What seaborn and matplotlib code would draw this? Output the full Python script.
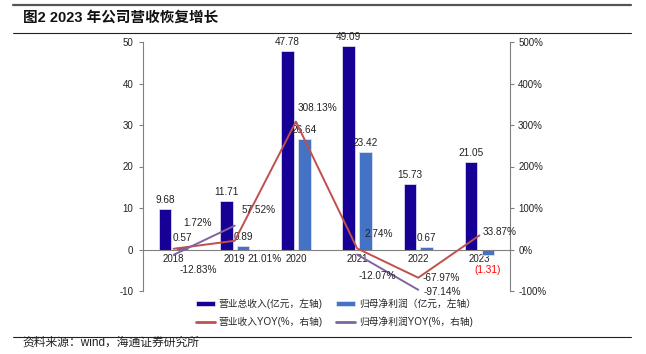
import numpy as np
import pandas as pd
import seaborn as sns
import matplotlib.pyplot as plt
from matplotlib.lines import Line2D

# data
years = ['2018', '2019', '2020', '2021', '2022', '2023']
revenue = [9.68, 11.71, 47.78, 49.09, 15.73, 21.05]          # 亿元
net_profit = [0.57, 0.89, 26.64, 23.42, 0.67, -1.31]         # 亿元
revenue_yoy = [1.72, 21.01, 308.13, 2.74, -67.97, 33.87]     # %
profit_yoy = [-12.83, 57.52, np.nan, -12.07, -97.14, np.nan]  # %, gaps not drawn

series_names = ['营业总收入(亿元，左轴)', '归母净利润（亿元，左轴）']
line_names = ['营业收入YOY(%，右轴)', '归母净利润YOY(%，右轴)']

navy = '#160096'
blue = '#4472C4'
red = '#C0504D'
purple = '#8064A2'
axis_gray = '#808080'

# label offsets in pixels (dx, dy up) for the yoy labels
rev_yoy_off = [(24, 26), (30, -18), (22, 14), (22, 14), (23, 0), (20, 3)]
profit_yoy_off = [(25, -15), (24, 16), None, (20, -21), (24, -2), None]

sns.set_style('ticks')
plt.rcParams['font.family'] = ['Liberation Sans', 'Noto Sans CJK SC']
plt.rcParams['axes.unicode_minus'] = False

px = 0.72  # pixels -> points at dpi 100

fig = plt.figure(figsize=(6.46, 3.54), dpi=100)
ax = fig.add_axes([143 / 646, 1 - 291 / 354, 367 / 646, 249 / 354])

df = pd.DataFrame({
    'year': years * 2,
    'value': revenue + net_profit,
    'series': [series_names[0]] * len(years) + [series_names[1]] * len(years),
})
sns.barplot(data=df, x='year', y='value', hue='series', order=years,
            hue_order=series_names, palette=[navy, blue], saturation=1,
            width=0.55, gap=0.25, errorbar=None, edgecolor='#e8e8f4',
            linewidth=0.5, ax=ax)
ax.get_legend().remove()

# bar value labels
for cont in ax.containers:
    for bar in cont:
        h = bar.get_height()
        xc = bar.get_x() + bar.get_width() / 2
        if h >= 0:
            ax.annotate(f'{h:.2f}', (xc, h), xytext=(0, 9 * px), textcoords='offset points',
                        ha='center', va='center', fontsize=7.2, color='#222222',
                        annotation_clip=False)
        else:
            ax.annotate(f'({-h:.2f})', (xc, h), xytext=(0, -15 * px), textcoords='offset points',
                        ha='center', va='center', fontsize=7.2, color='#FF0000',
                        annotation_clip=False)

ax.set_ylim(-10, 50)
ax.set_yticks(range(-10, 51, 10))
ax.set_xlim(-0.5, len(years) - 0.5)
ax.set_xlabel('')
ax.set_ylabel('')
ax.spines['top'].set_visible(False)
ax.spines['right'].set_visible(False)
ax.spines['bottom'].set_position(('data', 0))
for s in ['left', 'bottom']:
    ax.spines[s].set_color(axis_gray)
    ax.spines[s].set_linewidth(0.8)
ax.tick_params(axis='x', length=0, pad=3.5, labelsize=7, colors='#222222')
ax.tick_params(axis='y', length=4 * px, width=0.8, color=axis_gray, labelsize=7,
               labelcolor='#222222', pad=4)

# right axis lines
ax2 = ax.twinx()
pos = np.arange(len(years))
sns.lineplot(x=pos, y=revenue_yoy, color=red, linewidth=1.4, ax=ax2)

py = pd.DataFrame({'x': pos, 'yoy': profit_yoy})
py['seg'] = py['yoy'].isna().cumsum()
py = py.dropna()
sns.lineplot(data=py, x='x', y='yoy', units='seg', estimator=None,
             color=purple, linewidth=1.4, ax=ax2)

for i, v in enumerate(revenue_yoy):
    dx, dy = rev_yoy_off[i]
    ax2.annotate(f'{v:.2f}%', (pos[i], v), xytext=(dx * px, dy * px), textcoords='offset points',
                 ha='center', va='center', fontsize=7.2, color='#222222', annotation_clip=False)
for i, v in enumerate(profit_yoy):
    if np.isnan(v):
        continue
    dx, dy = profit_yoy_off[i]
    ax2.annotate(f'{v:.2f}%', (pos[i], v), xytext=(dx * px, dy * px), textcoords='offset points',
                 ha='center', va='center', fontsize=7.2, color='#222222', annotation_clip=False)

ax2.set_ylim(-100, 500)
ax2.set_yticks(range(-100, 501, 100))
ax2.set_yticklabels([f'{t}%' for t in range(-100, 501, 100)])
ax2.set_xlim(-0.5, len(years) - 0.5)
ax2.set_xlabel('')
ax2.set_ylabel('')
for s in ['top', 'bottom', 'left']:
    ax2.spines[s].set_visible(False)
ax2.spines['right'].set_color(axis_gray)
ax2.spines['right'].set_linewidth(0.8)
ax2.tick_params(axis='y', length=4 * px, width=0.8, color=axis_gray, labelsize=7,
                labelcolor='#222222', pad=3)

# legend
bar_handles = list(ax.containers)
line_handles = [Line2D([], [], color=red, linewidth=2), Line2D([], [], color=purple, linewidth=2)]
handles = [bar_handles[0], line_handles[0], bar_handles[1], line_handles[1]]
labels = [series_names[0], line_names[0], series_names[1], line_names[1]]
fig.legend(handles, labels, ncol=2, loc='center', bbox_to_anchor=(0.52, 0.116),
           frameon=False, fontsize=7, handlelength=1.9, handleheight=0.45,
           labelspacing=0.8, columnspacing=1.4, handletextpad=0.4)

# title, rules and source
fig.add_artist(Line2D([13 / 646, 631 / 646], [1 - 5 / 354] * 2, transform=fig.transFigure,
                      color='#555555', linewidth=1.6))
fig.add_artist(Line2D([13 / 646, 631 / 646], [1 - 33 / 354] * 2, transform=fig.transFigure,
                      color='#222222', linewidth=0.8))
fig.add_artist(Line2D([13 / 646, 631 / 646], [1 - 337 / 354] * 2, transform=fig.transFigure,
                      color='#222222', linewidth=0.8))
fig.text(23 / 646, 1 - 18 / 354, '图2 2023 年公司营收恢复增长', fontsize=10.5,
         fontweight='bold', ha='left', va='center', color='#111111')
fig.text(22 / 646, 1 - 343 / 354, '资料来源：wind，海通证券研究所', fontsize=8.5,
         ha='left', va='center', color='#222222')

fig.savefig('out.png', dpi=100)
